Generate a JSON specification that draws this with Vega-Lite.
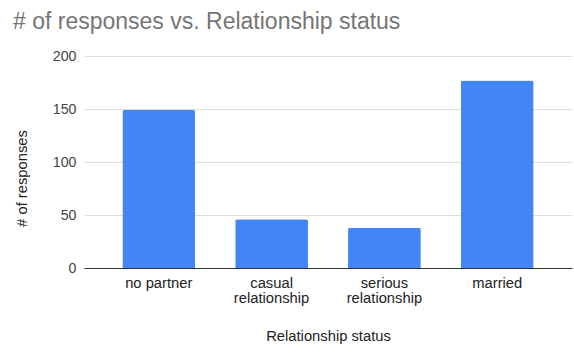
{
  "$schema": "https://vega.github.io/schema/vega-lite/v6.json",
  "width": 488,
  "height": 212,
  "autosize": {"type": "none"},
  "padding": {"left": 84, "top": 56, "right": 2, "bottom": 89},
  "background": "white",
  "title": {
    "text": "# of responses vs. Relationship status",
    "anchor": "start",
    "frame": "group",
    "font": "Liberation Sans",
    "fontSize": 23,
    "fontWeight": "normal",
    "color": "#757575",
    "baseline": "alphabetic",
    "dx": -71,
    "dy": 29,
    "offset": 26
  },
  "data": {
    "values": [
      {"status": "no partner", "count": 149},
      {"status": "casual relationship", "count": 46},
      {"status": "serious relationship", "count": 38},
      {"status": "married", "count": 177}
    ]
  },
  "mark": {"type": "bar", "color": "#4285f4", "cornerRadiusTopLeft": 2, "cornerRadiusTopRight": 2},
  "encoding": {
    "x": {
      "field": "status",
      "type": "nominal",
      "sort": null,
      "scale": {"paddingInner": 0.355, "paddingOuter": 0.34},
      "axis": {
        "title": "Relationship status",
        "labelAngle": 0,
        "labelExpr": "datum.label == 'no partner' || datum.label == 'married' ? datum.label : split(datum.label, ' ')",
        "labelFont": "Liberation Sans",
        "labelFontSize": 14.75,
        "labelColor": "#222222",
        "labelPadding": 7,
        "labelLineHeight": 15,
        "labelBaseline": "top",
        "ticks": false,
        "domainColor": "#333333",
        "domainWidth": 1,
        "titleFont": "Liberation Sans",
        "titleFontSize": 14.75,
        "titleFontWeight": "normal",
        "titleColor": "#222222",
        "titleBaseline": "alphabetic",
        "titleY": 72,
        "titleX": 244,
        "grid": false
      }
    },
    "y": {
      "field": "count",
      "type": "quantitative",
      "scale": {"domain": [0, 200], "nice": false},
      "axis": {
        "title": "# of responses",
        "values": [0, 50, 100, 150, 200],
        "labelFont": "Liberation Sans",
        "labelFontSize": 14.2,
        "labelColor": "#444444",
        "labelPadding": 8,
        "ticks": false,
        "domain": false,
        "gridColor": "#dddddd",
        "gridWidth": 1,
        "titleFont": "Liberation Sans",
        "titleFontSize": 14.75,
        "titleFontWeight": "normal",
        "titleColor": "#222222",
        "titleBaseline": "middle",
        "titleX": -61.5,
        "titleY": 122,
        "titleAngle": -90
      }
    }
  },
  "config": {"view": {"stroke": null}}
}
